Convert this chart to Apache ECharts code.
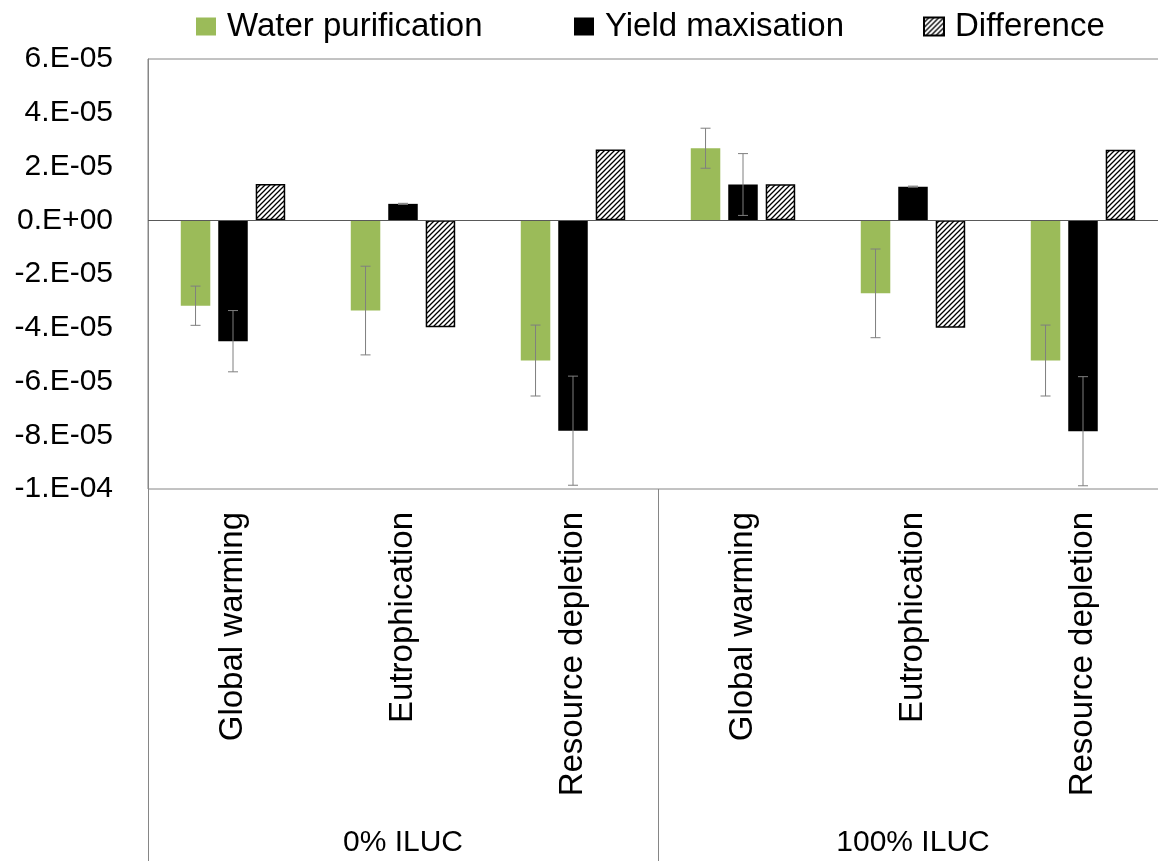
<!DOCTYPE html>
<html>
<head>
<meta charset="utf-8">
<script src="https://cdn.jsdelivr.net/npm/echarts@6/dist/echarts.min.js"></script>
<style>
  html, body { margin: 0; padding: 0; background: #fff; overflow: hidden; width: 1158px; height: 861px; }
  /* the plot's right edge sits just past the page edge */
  #chart { width: 1180px; height: 861px; }
</style>
</head>
<body>
<div id="chart"></div>
<script>
// Impact categories, two ILUC scenarios
const categories = ['Global warming', 'Eutrophication', 'Resource depletion',
                    'Global warming', 'Eutrophication', 'Resource depletion'];
const groups = ['0% ILUC', '100% ILUC'];

// Values per category (same order as categories)
const waterPurification = [-3.18e-5, -3.36e-5, -5.22e-5, 2.68e-5, -2.72e-5, -5.22e-5];
const waterPurificationErr = [0.73e-5, 1.65e-5, 1.32e-5, 0.745e-5, 1.65e-5, 1.32e-5];
const yieldMaxisation = [-4.50e-5, 0.61e-5, -7.83e-5, 1.33e-5, 1.25e-5, -7.85e-5];
const yieldMaxisationErr = [1.14e-5, 0.02e-5, 2.03e-5, 1.15e-5, 0.02e-5, 2.03e-5];
const difference = [1.35e-5, -3.98e-5, 2.63e-5, 1.34e-5, -4.0e-5, 2.62e-5];

// Y axis
const yMin = -1e-4, yMax = 6e-5, yInterval = 2e-5;
const yTickLabels = ['-1.E-04', '-8.E-05', '-6.E-05', '-4.E-05', '-2.E-05',
                     '0.E+00', '2.E-05', '4.E-05', '6.E-05'];

const FONT = 'Liberation Sans';
const BAR_W = 29.5;
const BAR_GAP = 0.27;
const GRID_COLOR = '#868686';

// diagonal hatch fill for the Difference bars
function hatchPattern() {
  const s = 5;
  const c = document.createElement('canvas');
  c.width = s; c.height = s;
  const ctx = c.getContext('2d');
  ctx.fillStyle = '#ffffff';
  ctx.fillRect(0, 0, s, s);
  ctx.strokeStyle = '#000000';
  ctx.lineWidth = 1.3;
  ctx.beginPath();
  ctx.moveTo(0, s); ctx.lineTo(s, 0);
  ctx.moveTo(-s / 2, s / 2); ctx.lineTo(s / 2, -s / 2);
  ctx.moveTo(s / 2, s * 1.5); ctx.lineTo(s * 1.5, s / 2);
  ctx.stroke();
  return { image: c, repeat: 'repeat' };
}
const hatch = hatchPattern();

function errorSeries(values, errs, slot) {
  const offset = (slot - 1) * BAR_W * (1 + BAR_GAP);
  return {
    type: 'custom',
    silent: true,
    z: 5,
    data: values.map((v, i) => [i, v, errs[i]]),
    encode: { x: 0, y: 1 },
    renderItem(params, api) {
      const i = api.value(0), v = api.value(1), e = api.value(2);
      const hi = api.coord([i, v + e]);
      const lo = api.coord([i, v - e]);
      const x = hi[0] + offset;
      const cap = 5;
      const style = { stroke: '#7f7f7f', lineWidth: 1 };
      return {
        type: 'group',
        children: [
          { type: 'line', shape: { x1: x, y1: hi[1], x2: x, y2: lo[1] }, style },
          { type: 'line', shape: { x1: x - cap, y1: hi[1], x2: x + cap, y2: hi[1] }, style },
          { type: 'line', shape: { x1: x - cap, y1: lo[1], x2: x + cap, y2: lo[1] }, style }
        ]
      };
    }
  };
}

const legendBase = {
  top: 8.5,
  padding: 0,
  icon: 'rect',
  itemWidth: 20,
  itemHeight: 18,
  selectedMode: false,
  textStyle: { fontFamily: FONT, fontSize: 33, color: '#000', lineHeight: 36, padding: [0, 0, 0, 6] }
};

const chart = echarts.init(document.getElementById('chart'), null, { renderer: 'canvas' });
chart.setOption({
  animation: false,
  backgroundColor: '#ffffff',
  legend: [
    Object.assign({ left: 196, data: ['Water purification'] }, legendBase),
    Object.assign({ left: 574, data: ['Yield maxisation'] }, legendBase),
    Object.assign({ left: 923, data: ['Difference'] }, legendBase)
  ],
  grid: {
    left: 148, top: 59, width: 1020, height: 430,
    show: true, borderColor: GRID_COLOR, borderWidth: 1, backgroundColor: 'transparent'
  },
  xAxis: [
    {
      type: 'category',
      data: categories,
      position: 'bottom',
      axisLine: { show: false, onZero: false },
      axisTick: { show: false },
      axisLabel: {
        interval: 0, rotate: 90, margin: 23,
        padding: [8, 0, 0, 0],
        fontFamily: FONT, fontSize: 33, color: '#000'
      },
      splitLine: { show: false }
    },
    {
      type: 'category',
      data: groups,
      position: 'bottom',
      axisLine: { show: false, onZero: false },
      axisTick: { show: true, interval: 0, length: 372, lineStyle: { color: GRID_COLOR, width: 1 } },
      axisLabel: {
        interval: 0, margin: 339,
        fontFamily: FONT, fontSize: 30, color: '#000'
      },
      splitLine: { show: false }
    }
  ],
  yAxis: {
    type: 'value',
    min: yMin, max: yMax, interval: yInterval,
    axisLine: { show: true, lineStyle: { color: GRID_COLOR } },
    axisTick: { show: false },
    splitLine: { show: false },
    axisLabel: {
      margin: 35,
      fontFamily: FONT, fontSize: 30, color: '#000',
      formatter: v => yTickLabels[Math.round((v - yMin) / yInterval)]
    }
  },
  series: [
    {
      name: 'Water purification',
      type: 'bar',
      data: waterPurification,
      barWidth: BAR_W,
      barGap: (BAR_GAP * 100) + '%',
      itemStyle: { color: '#9bbb59' },
      markLine: {
        silent: true,
        symbol: 'none',
        label: { show: false },
        lineStyle: { color: '#595959', width: 1, type: 'solid' },
        data: [{ yAxis: 0 }]
      }
    },
    {
      name: 'Yield maxisation',
      type: 'bar',
      data: yieldMaxisation,
      barWidth: BAR_W,
      barGap: (BAR_GAP * 100) + '%',
      itemStyle: { color: '#000000' }
    },
    {
      name: 'Difference',
      type: 'bar',
      data: difference,
      barWidth: BAR_W,
      barGap: (BAR_GAP * 100) + '%',
      itemStyle: { color: hatch, borderColor: '#000000', borderWidth: 1.5 }
    },
    errorSeries(waterPurification, waterPurificationErr, 0),
    errorSeries(yieldMaxisation, yieldMaxisationErr, 1)
  ]
});
</script>
</body>
</html>
